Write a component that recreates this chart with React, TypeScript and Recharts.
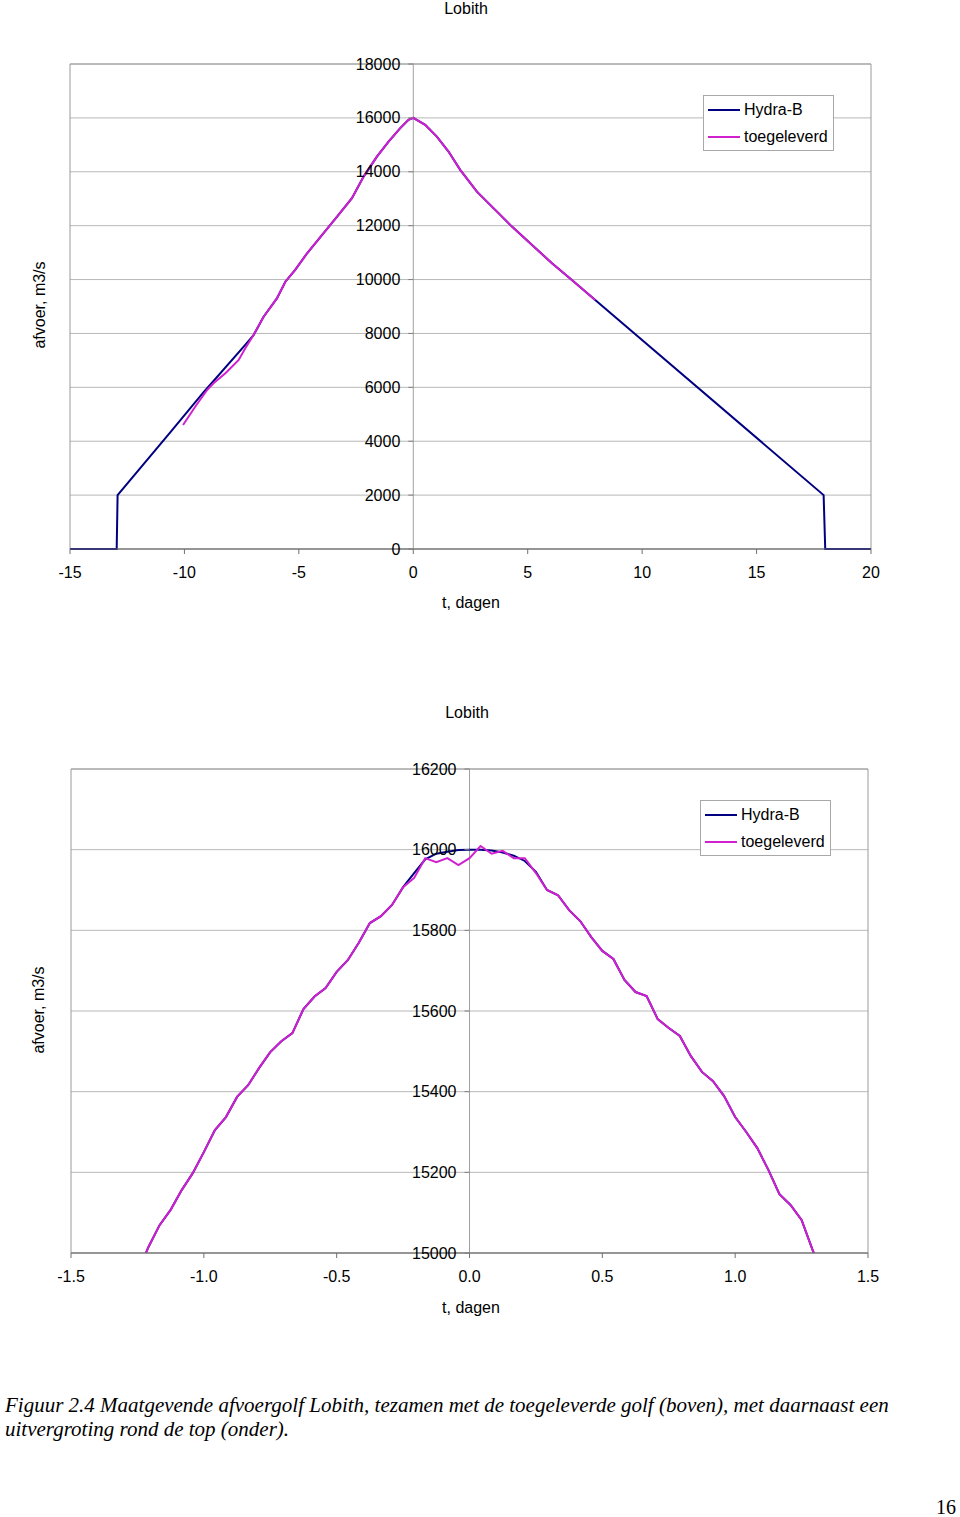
import React from "react";
import {
  LineChart,
  Line,
  XAxis,
  YAxis,
  CartesianGrid,
  ReferenceLine,
  ReferenceArea,
  Legend,
} from "recharts";

// ---------- Data: top chart (full wave) ----------
const tHydraTop = [
  -15, -12.96, -12.92, -10.62, -9.18, -7.41, -6.98, -6.54, -5.96, -5.59, -5.16,
  -4.64, -3.92, -3.33, -2.68, -2.17, -1.59, -1.08, -0.57, -0.21, 0, 0.52, 1.03,
  1.54, 2.05, 2.78, 3.58, 4.31, 5.19, 6.06, 6.93, 7.95, 17.93, 18.0, 20,
];
const hydraTop = [
  0, 0, 2000, 4330, 5800, 7510, 7940, 8620, 9300, 9920, 10360, 10975, 11720,
  12335, 13020, 13820, 14560, 15120, 15620, 15930, 16000, 15740, 15305, 14750,
  14070, 13265, 12585, 11965, 11285, 10605, 9985, 9240, 2000, 0, 0,
];
const tToegTop = [
  -10.06, -9.53, -9.01, -8.73, -8.21, -7.63, -7.34, -6.98, -6.54, -5.96, -5.59,
  -5.16, -4.64, -3.92, -3.33, -2.68, -2.17, -1.59, -1.08, -0.57, -0.21, 0, 0.52,
  1.03, 1.54, 2.05, 2.78, 3.58, 4.31, 5.19, 6.06, 6.93, 7.95,
];
const toegTop = [
  4600, 5280, 5900, 6150, 6520, 7015, 7450, 7940, 8620, 9300, 9920, 10360,
  10975, 11720, 12335, 13020, 13820, 14560, 15120, 15620, 15930, 16000, 15740,
  15305, 14750, 14070, 13265, 12585, 11965, 11285, 10605, 9985, 9240,
];
const xTicksTop = [-15, -10, -5, 0, 5, 10, 15, 20];
const yTicksTop = [0, 2000, 4000, 6000, 8000, 10000, 12000, 14000, 16000, 18000];

// ---------- Data: bottom chart (zoom around the top), hourly ----------
const hoursBottom = [
  -30, -29, -28, -27, -26, -25, -24, -23, -22, -21, -20, -19, -18, -17, -16,
  -15, -14, -13, -12, -11, -10, -9, -8, -7, -6, -5, -4, -3, -2, -1, 0, 1, 2, 3,
  4, 5, 6, 7, 8, 9, 10, 11, 12, 13, 14, 15, 16, 17, 18, 19, 20, 21, 22, 23, 24,
  25, 26, 27, 28, 29, 30, 31, 32,
];
const hydraBottom = [
  14950, 15015, 15069, 15107, 15156, 15198, 15250, 15305, 15337, 15387, 15416,
  15459, 15498, 15525, 15545, 15605, 15636, 15657, 15697, 15726, 15769, 15818,
  15835, 15863, 15907, 15942, 15976, 15990, 15995, 15999, 16000, 16000, 15998,
  15993, 15985, 15972, 15945, 15900, 15887, 15850, 15823, 15783, 15749, 15729,
  15677, 15647, 15637, 15580, 15558, 15538, 15488, 15449, 15426, 15389, 15337,
  15300, 15260, 15206, 15146, 15119, 15082, 15007, 14940,
];
const toegBottom = [
  14950, 15015, 15069, 15107, 15156, 15198, 15250, 15305, 15337, 15387, 15416,
  15459, 15498, 15525, 15545, 15605, 15636, 15657, 15697, 15726, 15769, 15818,
  15835, 15863, 15907, 15930, 15979, 15969, 15979, 15962, 15979, 16009, 15990,
  15997, 15979, 15979, 15942, 15900, 15887, 15850, 15823, 15783, 15749, 15729,
  15677, 15647, 15637, 15580, 15558, 15538, 15488, 15449, 15426, 15389, 15337,
  15300, 15260, 15206, 15146, 15119, 15082, 15007, 14940,
];
const xTicksBottom = [-1.5, -1.0, -0.5, 0, 0.5, 1.0, 1.5];
const yTicksBottom = [15000, 15200, 15400, 15600, 15800, 16000, 16200];

const seriesNames = ["Hydra-B", "toegeleverd"];
const NAVY = "#000080";
const MAGENTA = "#d020d0";
const FONT = "'Liberation Sans', Arial, Helvetica, sans-serif";

const zip = (ts: number[], vs: number[]) => ts.map((t, i) => ({ t, v: vs[i] }));
const hydraTopData = zip(tHydraTop, hydraTop);
const toegTopData = zip(tToegTop, toegTop);
const hydraBottomData = zip(hoursBottom.map((h) => h / 24), hydraBottom);
const toegBottomData = zip(hoursBottom.map((h) => h / 24), toegBottom);

type ChartCfg = {
  top: number;
  height: number;
  left: number;
  right: number;
  plotTop: number;
  plotBottom: number;
  xDomain: [number, number];
  yDomain: [number, number];
  xTicks: number[];
  yTicks: number[];
  xFmt: (v: number) => string;
  hydra: { t: number; v: number }[];
  toeg: { t: number; v: number }[];
  legendLeft: number;
  legendTop: number;
  clip: boolean;
};

const W = 960;
const XAXIS_H = 40;
const YAXIS_W = 2;

function makeYTick(cfg: ChartCfg) {
  const plotW = W - cfg.left - cfg.right;
  const x0 =
    cfg.left + ((0 - cfg.xDomain[0]) / (cfg.xDomain[1] - cfg.xDomain[0])) * plotW;
  return (props: any) => {
    const { y, payload } = props;
    return (
      <g>
        <line x1={x0 - 5} x2={x0} y1={y} y2={y} stroke="#808080" strokeWidth={1} />
        <text
          x={x0 - 13}
          y={y}
          textAnchor="end"
          dominantBaseline="central"
          fontSize={16}
          fontFamily={FONT}
          fill="#000"
        >
          {payload.value}
        </text>
      </g>
    );
  };
}

function LegendBox() {
  const colors = [NAVY, MAGENTA];
  return (
    <div
      style={{
        width: 129,
        height: 54,
        border: "1px solid #a8a8a8",
        background: "#fff",
        fontFamily: FONT,
        fontSize: 16,
        color: "#000",
        position: "relative",
      }}
    >
      {seriesNames.map((n, i) => (
        <div
          key={n}
          style={{
            position: "absolute",
            left: 4,
            top: 4 + i * 27,
            height: 20,
            display: "flex",
            alignItems: "center",
            whiteSpace: "nowrap",
          }}
        >
          <span
            style={{
              display: "inline-block",
              width: 32,
              height: 0,
              borderTop: `2px solid ${colors[i]}`,
              marginRight: 4,
            }}
          />
          <span>{n}</span>
        </div>
      ))}
    </div>
  );
}

function WaveChart({ cfg }: { cfg: ChartCfg }) {
  const marginBottom = cfg.height - cfg.plotBottom - XAXIS_H;
  return (
    <div style={{ position: "absolute", left: 0, top: cfg.top, width: W, height: cfg.height }}>
      <LineChart
        width={W}
        height={cfg.height}
        margin={{ top: cfg.plotTop, right: cfg.right, bottom: marginBottom, left: cfg.left - YAXIS_W }}
      >
        <CartesianGrid vertical={false} stroke="#b8b8b8" strokeWidth={1} />
        <ReferenceArea
          x1={cfg.xDomain[0]}
          x2={cfg.xDomain[1]}
          y1={cfg.yDomain[0]}
          y2={cfg.yDomain[1]}
          fill="none"
          stroke="#9a9a9a"
          strokeWidth={1}
          ifOverflow="visible"
        />
        <ReferenceLine x={0} stroke="#a0a0a0" strokeWidth={1} />
        <XAxis
          dataKey="t"
          type="number"
          domain={cfg.xDomain}
          ticks={cfg.xTicks}
          allowDataOverflow={cfg.clip}
          height={XAXIS_H}
          interval={0}
          tickFormatter={cfg.xFmt}
          stroke="#707070"
          tickSize={5}
          tickMargin={13}
          tick={{ fill: "#000", fontSize: 16, fontFamily: FONT }}
        />
        <YAxis
          dataKey="v"
          type="number"
          domain={cfg.yDomain}
          ticks={cfg.yTicks}
          allowDataOverflow={cfg.clip}
          width={YAXIS_W}
          interval={0}
          axisLine={false}
          tickLine={false}
          tickSize={0}
          tickMargin={0}
          tick={makeYTick(cfg)}
        />
        <Line
          data={cfg.hydra}
          dataKey="v"
          name={seriesNames[0]}
          type="linear"
          stroke={NAVY}
          strokeWidth={2}
          dot={false}
          activeDot={false}
          isAnimationActive={false}
        />
        <Line
          data={cfg.toeg}
          dataKey="v"
          name={seriesNames[1]}
          type="linear"
          stroke={MAGENTA}
          strokeWidth={2}
          dot={false}
          activeDot={false}
          isAnimationActive={false}
        />
        <Legend
          layout="vertical"
          align="center"
          verticalAlign="middle"
          wrapperStyle={{ left: cfg.legendLeft, top: cfg.legendTop, width: 131, height: 56 }}
          content={() => <LegendBox />}
        />
      </LineChart>
    </div>
  );
}

const topCfg: ChartCfg = {
  top: 0,
  height: 620,
  left: 70,
  right: 89,
  plotTop: 64,
  plotBottom: 549,
  xDomain: [-15, 20],
  yDomain: [0, 18000],
  xTicks: xTicksTop,
  yTicks: yTicksTop,
  xFmt: (v) => String(v),
  hydra: hydraTopData,
  toeg: toegTopData,
  legendLeft: 703,
  legendTop: 95,
  clip: false,
};

const bottomCfg: ChartCfg = {
  top: 650,
  height: 700,
  left: 71,
  right: 92,
  plotTop: 119,
  plotBottom: 603,
  xDomain: [-1.5, 1.5],
  yDomain: [15000, 16200],
  xTicks: xTicksBottom,
  yTicks: yTicksBottom,
  xFmt: (v) => v.toFixed(1),
  hydra: hydraBottomData,
  toeg: toegBottomData,
  legendLeft: 700,
  legendTop: 150,
  clip: true,
};

const textStyle: React.CSSProperties = {
  position: "absolute",
  fontFamily: FONT,
  fontSize: 16,
  color: "#000",
  whiteSpace: "nowrap",
};

function Label({ text, cx, cy, rotate }: { text: string; cx: number; cy: number; rotate?: boolean }) {
  return (
    <div
      style={{
        ...textStyle,
        left: cx,
        top: cy,
        transform: `translate(-50%, -50%)${rotate ? " rotate(-90deg)" : ""}`,
      }}
    >
      {text}
    </div>
  );
}

export default function App() {
  return (
    <div
      style={{
        position: "absolute",
        left: 0,
        top: 0,
        width: 960,
        height: 1517,
        background: "#fff",
        overflow: "hidden",
      }}
    >
      <WaveChart cfg={topCfg} />
      <WaveChart cfg={bottomCfg} />
      <Label text="Lobith" cx={466} cy={9} />
      <Label text="afvoer, m3/s" cx={40} cy={305} rotate />
      <Label text="t, dagen" cx={471} cy={603} />
      <Label text="Lobith" cx={467} cy={713} />
      <Label text="afvoer, m3/s" cx={39} cy={1010} rotate />
      <Label text="t, dagen" cx={471} cy={1308} />
      <div
        style={{
          position: "absolute",
          left: 5,
          top: 1393,
          fontFamily: "'Liberation Serif', 'Times New Roman', serif",
          fontStyle: "italic",
          fontSize: 21,
          lineHeight: "24px",
          color: "#000",
          whiteSpace: "nowrap",
        }}
      >
        Figuur 2.4 Maatgevende afvoergolf Lobith, tezamen met de toegeleverde golf (boven), met daarnaast een
        <br />
        uitvergroting rond de top (onder).
      </div>
      <div
        style={{
          position: "absolute",
          left: 936,
          top: 1496,
          fontFamily: "'Liberation Serif', 'Times New Roman', serif",
          fontSize: 20,
          color: "#000",
        }}
      >
        16
      </div>
    </div>
  );
}
